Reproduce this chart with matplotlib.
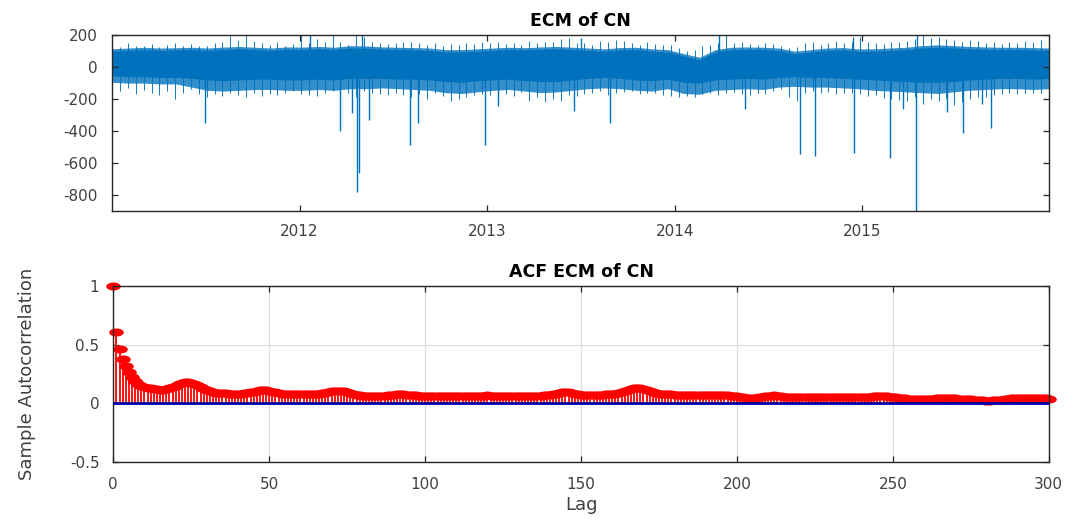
import numpy as np
import pandas as pd
from matplotlib import pyplot as plt
from matplotlib.path import Path
from matplotlib.transforms import Affine2D

plt.rcParams['font.family'] = ['DejaVu Sans']
plt.rcParams['axes.unicode_minus'] = False

# ---- ECM of CN ----
series_start = '2011-01-01'
series_end = '2015-12-31'

# monthly solid core of the series
core_hi = [100, 105, 110, 105, 108, 110, 105, 110, 115, 110, 105, 112,
           110, 115, 110, 120, 118, 112, 110, 108, 105, 95, 95, 100,
           105, 110, 108, 112, 115, 110, 105, 100, 108, 110, 100, 95,
           70, 45, 95, 110, 112, 110, 105, 85, 95, 105, 108, 100,
           100, 105, 110, 120, 125, 120, 115, 112, 110, 110, 108, 105]
core_lo = [-55, -60, -60, -65, -65, -70, -80, -85, -80, -75, -75, -80,
           -80, -75, -80, -70, -70, -70, -75, -75, -80, -90, -95, -85,
           -80, -75, -85, -90, -90, -80, -70, -65, -70, -80, -85, -75,
           -95, -100, -80, -75, -70, -75, -65, -60, -65, -65, -70, -75,
           -80, -85, -90, -95, -95, -90, -80, -75, -70, -70, -75, -70]

# monthly limits of the dense hairy zone around the core
hair_hi = [115, 120, 125, 120, 122, 125, 120, 126, 130, 125, 120, 127,
           126, 130, 125, 135, 133, 127, 125, 123, 120, 110, 110, 115,
           120, 125, 122, 127, 130, 125, 120, 115, 123, 125, 115, 110,
           85, 62, 110, 125, 127, 125, 120, 100, 110, 120, 123, 115,
           115, 120, 125, 135, 140, 135, 130, 127, 125, 125, 123, 120]
hair_lo = [-95, -100, -100, -105, -105, -125, -145, -150, -145, -140, -140, -145,
           -145, -140, -145, -135, -135, -130, -135, -140, -145, -160, -165, -155,
           -145, -140, -150, -160, -155, -145, -135, -130, -135, -145, -150, -135,
           -165, -170, -145, -140, -135, -140, -125, -120, -125, -125, -130, -135,
           -145, -150, -155, -160, -165, -155, -145, -140, -135, -135, -140, -135]

# half-monthly extremes (thin lines sticking out of the band)
fringe_hi = [140, 125, 150, 135, 130, 145, 128, 140, 150, 135, 145, 130,
             135, 150, 160, 195, 170, 200, 165, 150, 140, 155, 135, 145,
             210, 150, 175, 160, 200, 155, 140, 210, 190, 160, 150, 145,
             150, 155, 160, 150, 140, 150, 135, 145, 140, 150, 145, 155,
             150, 160, 145, 150, 140, 165, 150, 155, 160, 175, 180, 150,
             150, 140, 165, 160, 170, 165, 150, 140, 155, 145, 140, 140,
             120, 100, 110, 130, 140, 150, 205, 150, 160, 145, 140, 150,
             145, 130, 120, 125, 150, 155, 140, 150, 165, 150, 160, 190,
             155, 150, 145, 160, 155, 165, 175, 210, 180, 190, 175, 170,
             160, 170, 165, 150, 160, 145, 155, 150, 165, 160, 170, 155]
fringe_lo = [-160, -150, -130, -170, -145, -160, -175, -150, -200, -165, -140, -170,
             -185, -170, -180, -160, -175, -185, -165, -180, -170, -175, -160, -150,
             -170, -175, -180, -165, -150, -170, -160, -185, -150, -165, -170, -175,
             -160, -175, -190, -170, -200, -165, -180, -210, -200, -190, -175, -170,
             -175, -165, -170, -180, -155, -210, -190, -220, -200, -210, -175, -180,
             -170, -165, -150, -175, -160, -155, -150, -170, -160, -165, -175, -180,
             -190, -180, -185, -170, -165, -175, -160, -155, -170, -175, -165, -170,
             -150, -140, -185, -210, -165, -150, -160, -155, -170, -165, -160, -170,
             -180, -175, -195, -200, -205, -210, -190, -230, -200, -210, -195, -240,
             -220, -200, -190, -185, -175, -170, -165, -170, -160, -165, -160, -155]

# isolated spikes
spike_dates = ['2011-07-01', '2012-01-22', '2012-03-20', '2012-04-12', '2012-04-22',
               '2012-04-25', '2012-05-01', '2012-05-15', '2012-08-03', '2012-08-18',
               '2012-12-28', '2013-01-22', '2013-06-18', '2013-07-02', '2013-08-28',
               '2014-03-28', '2014-05-18', '2014-09-02', '2014-10-01', '2014-12-15',
               '2014-12-17', '2015-02-24', '2015-03-22', '2015-04-16', '2015-04-18',
               '2015-06-16', '2015-07-16', '2015-08-22', '2015-09-10']
spike_values = [-347, 210, -400, -285, -780,
                -665, 205, -330, -485, -350,
                -485, -245, -275, 180, -347,
                205, -265, -542, -560, 190,
                -537, -570, -265, -900, 210,
                -280, -410, -232, -380]

year_ticks = ['2012-01-01', '2013-01-01', '2014-01-01', '2015-01-01']
year_labels = ['2012', '2013', '2014', '2015']
ecm_yticks = [-800, -600, -400, -200, 0, 200]

# ---- ACF of ECM (lags 0..300) ----
acf = [
    1.00, 0.61, 0.46, 0.38, 0.32, 0.27, 0.22, 0.19, 0.165, 0.15,
    0.14, 0.13, 0.125, 0.12, 0.117, 0.115, 0.116, 0.12, 0.13, 0.14,
    0.15, 0.16, 0.17, 0.178, 0.18, 0.176, 0.166, 0.152, 0.137, 0.122,
    0.11, 0.10, 0.095, 0.09, 0.087, 0.085, 0.083, 0.081, 0.08, 0.08,
    0.08, 0.082, 0.085, 0.088, 0.092, 0.098, 0.105, 0.111, 0.115, 0.112,
    0.105, 0.098, 0.091, 0.086, 0.082, 0.079, 0.077, 0.076, 0.075, 0.074,
    0.074, 0.075, 0.076, 0.078, 0.08, 0.08, 0.082, 0.086, 0.09, 0.095,
    0.1, 0.104, 0.106, 0.104, 0.1, 0.094, 0.087, 0.08, 0.073, 0.067,
    0.063, 0.06, 0.059, 0.058, 0.058, 0.06, 0.062, 0.065, 0.068, 0.07,
    0.072, 0.074, 0.075, 0.074, 0.072, 0.07, 0.068, 0.066, 0.064, 0.062,
    0.062, 0.061, 0.06, 0.06, 0.06, 0.061, 0.062, 0.062, 0.061, 0.06,
    0.059, 0.058, 0.058, 0.059, 0.06, 0.061, 0.062, 0.063, 0.064, 0.065,
    0.066, 0.065, 0.064, 0.062, 0.06, 0.059, 0.058, 0.059, 0.06, 0.061,
    0.062, 0.063, 0.063, 0.062, 0.062, 0.063, 0.064, 0.065, 0.066, 0.068,
    0.07, 0.075, 0.081, 0.087, 0.091, 0.093, 0.091, 0.087, 0.081, 0.076,
    0.073, 0.071, 0.07, 0.07, 0.071, 0.072, 0.072, 0.073, 0.074, 0.075,
    0.077, 0.082, 0.089, 0.098, 0.107, 0.115, 0.121, 0.125, 0.127, 0.125,
    0.119, 0.111, 0.102, 0.093, 0.086, 0.081, 0.078, 0.076, 0.075, 0.074,
    0.073, 0.073, 0.072, 0.072, 0.072, 0.071, 0.071, 0.07, 0.07, 0.07,
    0.069, 0.069, 0.068, 0.068, 0.067, 0.067, 0.066, 0.066, 0.064, 0.061,
    0.057, 0.053, 0.05, 0.048, 0.047, 0.047, 0.048, 0.05, 0.053, 0.057,
    0.061, 0.064, 0.066, 0.063, 0.059, 0.056, 0.054, 0.053, 0.052, 0.052,
    0.052, 0.052, 0.053, 0.053, 0.054, 0.054, 0.054, 0.053, 0.053, 0.053,
    0.053, 0.054, 0.055, 0.055, 0.056, 0.056, 0.055, 0.054, 0.053, 0.053,
    0.053, 0.054, 0.055, 0.056, 0.057, 0.058, 0.058, 0.057, 0.057, 0.056,
    0.054, 0.051, 0.047, 0.043, 0.041, 0.039, 0.038, 0.038, 0.038, 0.038,
    0.038, 0.039, 0.039, 0.039, 0.04, 0.04, 0.04, 0.04, 0.04, 0.04,
    0.04, 0.039, 0.038, 0.037, 0.035, 0.033, 0.03, 0.027, 0.025, 0.023,
    0.022, 0.022, 0.023, 0.025, 0.028, 0.031, 0.034, 0.037, 0.04, 0.042,
    0.044, 0.045, 0.046, 0.046, 0.045, 0.044, 0.043, 0.042, 0.041, 0.04,
    0.039,
]
lag_ticks = [0, 50, 100, 150, 200, 250, 300]
acf_yticks = [-0.5, 0, 0.5, 1]
acf_ylabels = ['-0.5', '0', '0.5', '1']

ML_BLUE = '#0072BD'
AX_COLOR = '#262626'


def style_axes(ax, xpad, ypad):
    for s in ax.spines.values():
        s.set_color(AX_COLOR)
        s.set_linewidth(1.0)
    ax.tick_params(direction='in', top=True, right=True, length=4, width=0.9,
                   colors=AX_COLOR, labelsize=11, labelcolor='#404040')
    ax.tick_params(axis='x', pad=xpad)
    ax.tick_params(axis='y', pad=ypad)


fig = plt.figure(figsize=(10.79, 5.22), dpi=100)

# ---- top: ECM of CN ----
ax1 = fig.add_axes([0.104, 0.5964, 0.868, 0.336])
t0, t1 = pd.Timestamp(series_start), pd.Timestamp(series_end)
core_x = pd.to_datetime(np.linspace(t0.value, t1.value, len(core_hi)))
fringe_x = pd.to_datetime(np.linspace(t0.value, t1.value, len(fringe_hi)))

ax1.fill_between(core_x, hair_lo, hair_hi, color=ML_BLUE, linewidth=0, alpha=0.8)
ax1.fill_between(core_x, core_lo, core_hi, color=ML_BLUE, linewidth=0)
ax1.vlines(fringe_x, fringe_lo, fringe_hi, color=ML_BLUE, linewidth=0.75, alpha=0.9)
ax1.vlines(pd.to_datetime(spike_dates), 0, spike_values, color=ML_BLUE, linewidth=1.0)

ax1.set_xlim(t0, t1)
ax1.set_ylim(-900, 200)
ax1.set_xticks(pd.to_datetime(year_ticks))
ax1.set_xticklabels(year_labels)
ax1.set_yticks(ecm_yticks)
ax1.set_yticklabels([str(v) for v in ecm_yticks])
ax1.set_title('ECM of CN', fontsize=12.5, fontweight='bold', color='black', pad=6.5)
style_axes(ax1, 9.5, 10.5)

# ---- bottom: ACF ----
ax2 = fig.add_axes([0.105, 0.1155, 0.867, 0.3366])
lags = np.arange(len(acf))
markerline, stemlines, baseline = ax2.stem(lags, acf)
stemlines.set_color('red')
stemlines.set_linewidth(1.3)
ellipse = Path.unit_circle().transformed(Affine2D().scale(1.0, 0.55))
markerline.set_marker(ellipse)
markerline.set_markersize(10.5)
markerline.set_color('red')
markerline.set_markeredgewidth(0)
markerline.set_clip_on(False)
baseline.set_color('#0000A8')
baseline.set_linewidth(2.0)
baseline.set_zorder(4)

ax2.set_xlim(0, 300)
ax2.set_ylim(-0.5, 1)
ax2.set_xticks(lag_ticks)
ax2.set_yticks(acf_yticks)
ax2.set_yticklabels(acf_ylabels)
ax2.grid(True, color='#dcdcdc', linewidth=0.9)
ax2.set_axisbelow(True)
ax2.set_title('ACF ECM of CN', fontsize=12.5, fontweight='bold', color='black', pad=6.5)
ax2.set_xlabel('Lag', fontsize=13, color='#404040', labelpad=3)
ax2.set_ylabel('Sample Autocorrelation', fontsize=13, color='#404040')
ax2.yaxis.set_label_coords(-0.0826, 0.5)
style_axes(ax2, 11, 10)

fig.savefig('out.png', dpi=100)
